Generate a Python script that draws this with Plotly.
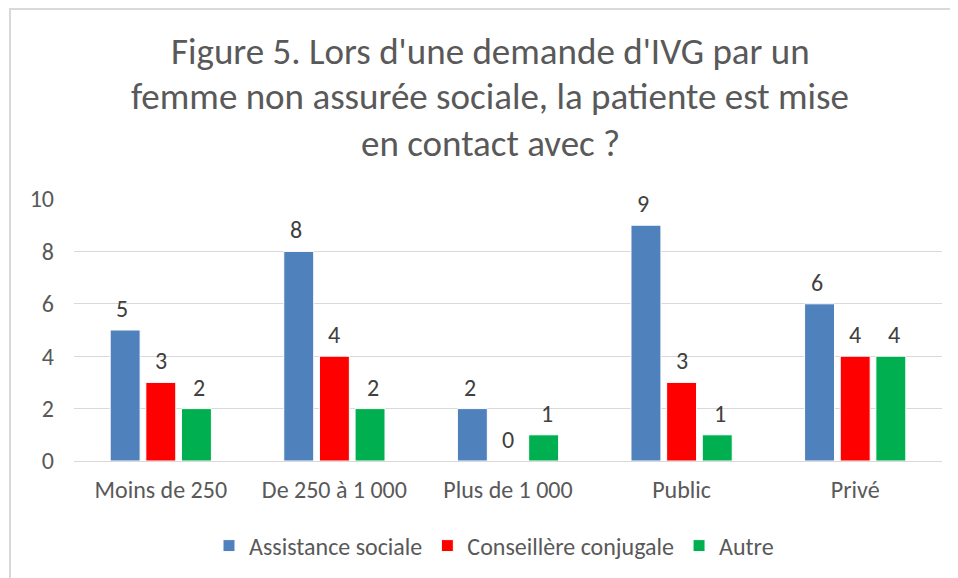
import plotly.graph_objects as go

categories = ["Moins de 250", "De 250 à 1 000", "Plus de 1 000", "Public", "Privé"]
series_names = ["Assistance sociale", "Conseillère conjugale", "Autre"]
assistance_sociale = [5, 8, 2, 9, 6]
conseillere_conjugale = [3, 4, 0, 3, 4]
autre = [2, 2, 1, 1, 4]
y_ticks = [0, 2, 4, 6, 8, 10]
title_lines = [
    "Figure 5. Lors d'une demande d'IVG par un",
    "femme non assurée sociale, la patiente est mise",
    "en contact avec ?",
]

colors = ["#4F81BD", "#FF0000", "#00B050"]
FONT = "Carlito, 'Open Sans', sans-serif"
TXT = "#595959"
LBL = 24

# plot area in figure pixels (page offset 8px removed)
L, R, T, B = 66, 934, 191, 453
W, H = 958, 578
PW, PH = R - L, B - T

def px(x):
    return (x - L) / PW

def py(y):
    return (B - y) / PH

values = [assistance_sociale, conseillere_conjugale, autre]

fig = go.Figure()
for name, vals, col in zip(series_names, values, colors):
    fig.add_trace(go.Bar(
        name=name, x=categories, y=vals,
        marker=dict(color=col, line=dict(color="white", width=1)),
    ))

annotations = []
for i, vals in enumerate(values):
    for c, v in zip(categories, vals):
        annotations.append(dict(
            x=c, y=v, xref="x", yref="y", text=str(v), showarrow=False,
            xshift=(i - 1) * 38.5, yanchor="bottom", yshift=5,
            font=dict(family=FONT, size=LBL, color="#404040"),
        ))

for line, ty in zip(title_lines, [44, 89, 135]):
    annotations.append(dict(
        x=px(482), y=py(ty), xref="paper", yref="paper",
        text=line, showarrow=False, xanchor="center", yanchor="middle",
        font=dict(family=FONT, size=37, color=TXT),
    ))

fig.update_layout(
    width=W, height=H,
    margin=dict(l=L, r=W - R, t=T, b=H - B),
    paper_bgcolor="white", plot_bgcolor="white",
    barmode="group", bargap=0.384, bargroupgap=0.16,
    font=dict(family=FONT, size=LBL, color=TXT),
    showlegend=True,
    legend=dict(
        orientation="h", x=px(486), xanchor="center",
        y=py(538), yanchor="middle",
        font=dict(family=FONT, size=LBL, color=TXT),
        itemwidth=30, traceorder="normal",
    ),
    annotations=annotations,
    xaxis=dict(showgrid=False, showline=False, ticks="", ticklabelstandoff=12,
               tickfont=dict(size=LBL, color=TXT)),
    yaxis=dict(
        range=[0, 10], tickvals=y_ticks, showgrid=True, gridcolor="#D9D9D9", gridwidth=1,
        zeroline=True, zerolinecolor="#D9D9D9", zerolinewidth=1,
        showline=False, ticks="", tickfont=dict(size=LBL, color=TXT), ticklabelstandoff=19,
    ),
    shapes=[dict(type="rect", xref="paper", yref="paper",
                 x0=px(2), x1=px(1000), y0=py(620), y1=py(1),
                 line=dict(color="#D9D9D9", width=2), layer="below")],
)

fig.write_html("out.html")
